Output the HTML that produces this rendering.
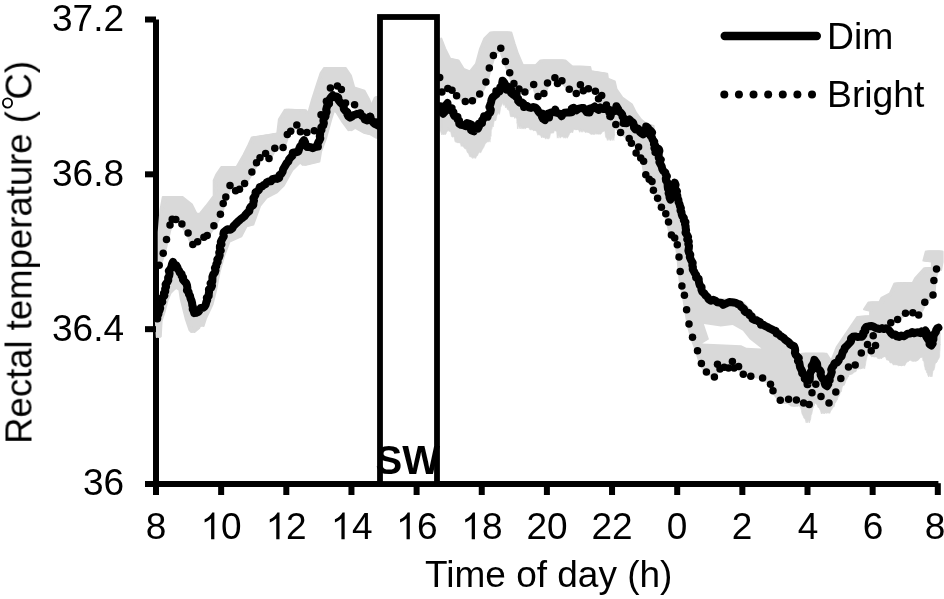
<!DOCTYPE html><html><head><meta charset="utf-8"><title>Rectal temperature</title><style>
html,body{margin:0;padding:0;background:#fff;overflow:hidden;}
#c{position:absolute;left:0;top:0;width:944px;height:599px;overflow:hidden;background:#fff;}
body{width:944px;height:599px;position:relative;overflow:hidden;font-family:"Liberation Sans",sans-serif;color:#000;}
.t{position:absolute;will-change:transform;white-space:nowrap;line-height:1;font-size:37px;}
.yl{right:819.8px;text-align:right;}
.xl{transform:translateX(-50%);top:507.9px;}
</style></head><body><div id="c">
<svg width="944" height="599" viewBox="0 0 944 599" style="position:absolute;left:0;top:0;will-change:transform">
<rect x="153" y="19.5" width="6" height="475.5" fill="#000"/>
<g id="gb" fill="#d9d9d9" stroke="#d9d9d9" stroke-width="2" stroke-linejoin="round">
<polygon points="160.3,262.0 160.3,232.0 162.0,210.0 164.4,197.0 181.0,197.0 190.2,204.2 194.9,213.6 200.8,214.4 207.6,206.0 215.3,195.8 215.3,180.5 217.8,174.6 222.9,167.0 238.1,167.0 245.0,155.0 250.0,145.0 253.4,137.5 270.0,135.0 278.8,133.6 280.5,119.2 286.4,109.8 304.4,110.3 305.3,113.7 310.3,111.2 313.7,99.3 318.0,85.8 322.2,73.0 325.6,68.0 344.2,68.0 349.3,75.6 352.7,87.5 362.9,90.8 367.1,98.5 369.7,104.4 373.0,105.3 376.4,97.6 378.0,97.0 376.0,122.0 369.8,116.5 360.3,113.0 354.6,104.7 345.5,103.0 341.4,89.5 337.4,86.0 330.4,88.0 326.4,101.2 321.0,114.8 314.3,130.7 306.9,132.4 300.4,131.7 296.8,125.0 290.7,131.2 287.3,134.4 283.1,147.5 274.8,148.3 269.0,158.5 265.6,153.4 260.0,157.7 256.5,162.7 251.9,172.0 244.6,183.4 239.5,189.3 235.6,190.7 230.0,185.6 225.8,197.0 223.2,203.6 220.4,214.2 213.9,225.8 207.2,235.6 203.9,237.2 197.6,241.8 192.8,244.4 188.1,233.1 181.9,224.0 175.8,219.5 172.2,219.2 170.0,225.1 166.5,239.5 163.2,253.2 159.2,265.2"/>
<polygon points="157.3,318.5 158.8,312.0 162.7,297.6 167.0,282.4 170.3,268.8 173.4,262.0 177.5,267.0 181.5,273.8 184.5,281.0 187.2,288.1 189.8,296.0 192.0,303.0 194.6,313.0 199.6,310.0 205.5,304.3 209.3,291.5 212.0,281.5 215.3,268.0 216.7,264.3 219.2,252.5 222.9,238.1 225.4,230.5 232.2,228.0 238.1,221.2 244.1,216.1 249.2,211.0 253.4,202.5 255.9,192.4 261.9,186.4 268.6,181.4 277.1,178.8 281.4,173.7 285.6,165.3 290.7,157.6 293.2,153.0 298.3,151.4 301.7,144.6 304.2,140.3 306.8,147.1 312.7,148.0 317.8,146.3 320.3,134.4 323.7,120.8 327.1,107.3 330.5,98.0 333.0,95.4 338.1,98.0 342.4,103.9 345.8,110.7 350.0,117.5 355.0,114.9 360.2,114.0 367.0,120.8 370.3,116.6 375.4,124.2 378.0,125.9 378.0,137.8 372.0,134.4 365.3,132.7 355.0,126.8 350.0,130.2 343.2,120.8 338.1,112.4 333.0,109.0 329.7,119.2 324.6,137.8 319.5,151.4 317.8,161.5 304.2,164.9 300.8,161.5 297.5,163.6 290.7,170.3 282.2,185.6 275.4,192.4 265.3,197.5 258.5,206.0 251.7,224.6 245.0,226.3 239.8,236.4 228.0,241.5 222.5,256.0 218.0,272.0 214.5,290.0 211.0,304.3 204.3,318.6 202.0,326.0 199.6,322.4 197.7,328.0 192.9,332.0 191.0,330.0 187.2,318.6 182.4,299.5 181.0,290.0 176.0,287.0 172.0,290.0 169.0,293.0 166.0,300.0 163.0,312.0 160.0,321.0 159.2,336.5 158.4,337.0"/>
<polygon points="439.7,38.5 443.6,48.6 448.6,58.8 457.0,60.5 462.2,69.0 470.7,72.4 477.5,63.9 481.7,48.6 485.9,38.5 491.9,32.5 509.7,32.5 513.0,43.6 516.4,53.7 521.5,65.6 536.8,65.6 541.9,60.5 563.9,60.5 570.7,66.4 588.6,67.0 589.5,71.2 605.6,73.7 606.4,78.8 613.2,81.4 614.9,89.0 620.8,97.5 630.2,104.2 634.4,112.7 639.5,119.5 645.0,124.0 652.0,126.0 653.0,140.0 657.0,146.0 661.0,162.0 665.0,176.0 669.0,181.0 672.0,187.0 676.0,199.0 682.0,212.0 686.0,232.0 689.0,250.0 693.0,265.0 698.0,279.0 703.0,292.0 712.0,298.0 720.0,299.5 731.0,300.0 742.0,303.0 750.0,312.0 760.0,321.0 772.0,328.0 782.0,335.0 792.0,343.0 796.5,353.0 799.5,360.0 802.0,357.0 803.5,353.7 825.0,353.7 829.0,360.0 831.5,364.0 838.3,347.0 848.5,332.0 858.7,317.0 871.7,316.3 871.7,310.9 865.6,309.4 870.0,302.5 880.8,302.5 883.0,298.0 891.5,293.4 896.0,283.5 914.4,282.7 916.7,278.1 925.8,268.2 933.5,268.2 933.5,261.4 925.0,260.6 927.4,251.4 941.0,251.4 941.0,262.0 939.5,270.0 936.5,269.0 933.9,280.4 933.0,294.9 924.8,302.2 918.7,314.9 912.8,312.8 905.5,313.2 897.6,319.6 890.8,322.8 873.2,335.8 875.5,345.5 871.2,350.7 867.5,344.6 861.3,352.9 855.2,365.0 848.5,367.0 840.8,378.6 835.8,391.9 829.0,402.9 821.0,396.6 815.8,384.2 812.0,392.7 809.2,404.6 803.6,402.9 796.4,400.0 788.6,399.2 780.3,400.3 773.0,390.7 770.5,384.2 762.6,378.0 750.8,376.3 743.3,374.2 738.6,366.4 734.1,368.1 732.4,361.4 728.5,368.1 724.2,367.3 720.0,369.0 717.5,364.2 714.4,377.0 706.4,371.9 701.4,363.6 697.5,350.7 692.5,337.3 689.0,324.1 686.6,309.7 684.4,295.3 681.9,286.1 680.2,271.4 679.0,257.0 677.3,244.7 674.7,238.0 671.4,235.1 668.5,222.0 665.8,213.7 661.4,207.3 657.6,198.3 653.4,190.3 652.0,181.4 649.2,179.3 645.8,174.7 643.6,161.2 640.7,158.1 636.1,153.1 638.6,147.0 631.4,143.2 629.2,138.6 620.6,132.4 615.8,124.6 610.7,116.0 606.4,105.0 598.5,98.8 601.7,95.4 595.4,91.2 588.4,88.8 583.3,90.8 580.4,84.7 576.3,93.4 569.3,89.3 561.9,80.8 557.5,83.4 554.9,77.8 547.5,83.0 543.9,93.6 538.0,96.4 533.7,84.6 524.9,91.9 519.0,89.0 513.9,83.4 509.7,72.7 505.4,61.4 500.8,48.3 493.4,55.4 489.3,68.1 485.9,82.0 479.7,94.0 472.4,100.8 465.3,101.5 456.6,95.8 452.0,90.2 447.8,88.5 441.9,91.9 439.7,77.5"/>
<polygon points="440.2,106.2 443.6,113.4 446.9,102.8 451.6,111.0 457.0,119.5 463.5,125.8 469.4,123.6 473.5,131.5 479.2,124.0 483.3,118.5 488.0,114.0 491.5,102.5 496.5,94.0 500.3,89.3 502.9,80.8 507.1,86.8 511.4,92.7 516.4,94.4 519.0,102.9 526.6,106.3 533.4,106.3 540.2,113.0 545.3,119.8 550.3,113.0 555.4,109.7 561.4,116.4 567.3,113.0 574.1,108.5 583.6,108.5 589.5,112.7 592.0,107.6 598.8,109.3 606.4,106.8 610.7,116.1 615.8,105.9 613.2,129.9 613.1,129.2 612.9,135.7 612.8,133.8 612.7,137.6 612.5,138.0 612.4,140.5 610.7,136.5 609.0,140.5 608.1,137.7 607.3,137.4 606.5,131.4 605.6,130.1 604.8,129.2 603.9,130.1 602.4,131.3 600.9,131.8 599.4,134.1 598.0,134.2 596.5,132.1 595.0,131.5 593.5,134.5 592.0,134.0 590.3,132.4 588.7,131.3 587.0,132.7 585.5,131.1 584.1,129.1 582.6,129.3 581.2,132.3 579.7,128.3 578.3,129.3 576.8,129.8 575.3,129.2 573.9,128.4 572.4,128.5 571.0,133.0 569.7,131.4 568.3,133.2 567.0,135.9 565.6,138.3 563.9,135.1 562.2,137.3 560.5,134.6 558.8,138.2 558.3,131.9 557.8,130.7 557.3,130.8 556.8,130.2 556.3,130.1 554.9,131.3 553.4,128.3 552.0,133.0 551.0,133.2 550.0,131.6 549.0,133.2 548.1,137.4 547.1,139.2 546.1,136.5 544.8,135.6 543.4,138.0 542.1,135.4 540.8,133.9 539.5,135.3 538.1,131.5 536.8,130.0 535.1,130.9 533.4,128.7 531.7,130.1 530.0,127.2 528.3,126.8 526.8,127.5 525.2,127.2 523.6,129.1 522.1,126.0 520.5,125.3 519.0,128.9 518.8,122.5 518.6,123.4 518.5,122.7 518.3,118.4 518.1,115.6 516.4,118.5 514.7,114.9 513.0,117.0 512.0,116.5 511.0,111.5 510.0,109.8 509.0,109.5 508.0,106.6 507.1,107.9 506.3,103.9 505.4,105.6 504.6,101.4 503.8,101.3 502.9,100.5 502.3,100.0 501.6,104.7 501.0,102.3 500.4,104.0 499.7,106.3 499.1,107.1 498.4,111.9 497.8,114.4 496.9,112.8 496.1,113.3 495.2,115.9 494.4,120.2 493.7,120.9 493.0,119.4 492.3,122.5 491.6,127.0 490.9,125.7 490.2,129.4 490.0,127.5 489.8,128.1 489.6,134.2 489.4,136.4 489.1,135.1 488.9,139.2 488.7,138.6 488.5,142.2 487.2,139.7 485.9,142.0 484.6,142.8 483.4,144.4 482.1,147.5 480.8,149.4 479.8,151.6 478.9,153.1 477.9,150.8 476.9,153.2 475.9,155.7 475.0,156.3 474.0,158.5 472.7,156.6 471.5,157.0 470.2,153.7 468.9,152.5 467.7,149.0 466.4,148.8 465.2,147.3 463.9,145.3 462.8,146.5 461.8,142.6 460.7,142.0 459.6,143.2 458.6,142.1 457.5,142.4 456.5,141.3 455.4,135.1 454.3,137.2 453.3,136.6 452.2,131.5 451.1,131.4 450.1,129.0 449.0,131.4 448.0,129.3 446.9,127.4 446.3,127.3 445.6,131.1 445.0,132.4 444.4,133.8 443.3,135.0 442.3,131.8 441.2,130.0 440.2,129.0" stroke-width="0.6"/>
<polygon points="780.3,403.0 782.0,402.5 783.8,402.4 785.5,403.5 787.2,403.1 788.9,403.1 790.6,404.4 792.4,406.2 794.1,406.1 795.8,406.3 797.5,404.9 799.3,406.1 801.0,405.6 801.7,406.9 802.4,408.3 803.0,410.3 803.7,414.0 804.4,415.3 805.1,416.9 805.8,418.5 806.4,418.3 807.1,420.2 807.8,422.8 808.2,421.5 808.6,420.2 809.1,418.7 809.5,414.7 809.9,414.7 810.3,413.3 810.7,411.1 811.2,408.6 811.6,407.8 812.0,405.1 812.5,405.9 813.0,404.0 813.6,401.3 814.1,398.9 814.6,399.0 815.4,399.5 816.3,402.0 817.1,403.4 818.0,403.9 818.8,405.1 819.6,407.2 820.5,408.2 821.3,408.9 822.2,410.9 823.0,413.9 824.7,411.6 826.4,411.6 828.1,413.4 829.0,410.9 829.8,410.2 830.7,408.5 831.5,406.6 832.4,407.1 833.3,403.2 834.1,402.4 835.0,400.3 835.7,400.1 836.3,397.5 837.0,396.2 837.7,395.9 838.4,393.1 839.0,392.3 839.7,391.8 840.4,387.8 841.0,386.2 841.7,385.2 842.6,385.3 843.4,383.3 844.2,380.7 845.1,379.5 846.0,377.5 846.8,376.9 847.6,374.1 848.5,374.6 849.9,374.3 851.4,373.5 852.8,371.9 854.3,371.7 855.7,367.9 857.2,367.8 858.6,368.9 860.1,368.3 861.6,367.2 863.1,368.7 863.5,366.2 863.8,365.2 864.2,362.0 864.6,360.1 864.9,359.2 865.3,356.7 865.7,355.8 866.0,356.0 866.4,352.5 868.1,352.3 869.7,353.1 871.4,354.3 873.1,356.9 874.7,356.3 876.4,356.9 878.0,356.3 879.7,358.9 881.3,357.3 883.0,356.6 884.6,356.2 886.3,356.2 887.4,357.6 888.5,360.2 889.6,359.7 890.7,360.5 891.8,363.0 893.4,362.6 895.1,365.2 896.8,363.0 898.4,364.6 900.1,365.7 901.7,364.9 903.0,365.8 904.3,363.4 905.7,361.8 907.0,361.4 908.3,359.4 910.1,360.3 911.8,359.6 913.6,361.3 915.3,360.9 917.1,359.7 918.8,357.5 920.4,357.3 922.1,356.5 923.7,355.5 924.2,357.3 924.6,361.0 925.1,360.5 925.6,362.0 926.1,366.3 926.5,367.0 927.0,370.0 927.7,369.7 928.3,372.8 929.0,373.6 929.6,375.5 930.3,376.9 930.8,374.4 931.2,371.5 931.7,370.1 932.2,370.3 932.7,368.7 933.1,367.0 933.6,363.5 934.5,363.0 935.4,361.9 936.2,359.9 937.1,358.9 938.0,356.5 938.1,355.1 938.1,353.4 938.2,350.3 938.3,350.5 938.4,348.8 938.5,344.3 938.5,345.2 938.6,343.4 938.5,328.0 937.4,328.3 934.8,333.5 931.5,345.4 928.2,340.1 925.5,330.9 920.3,332.9 912.3,332.2 905.8,335.5 899.2,336.8 891.2,333.5 886.0,328.3 878.0,328.9 871.5,325.6 866.2,326.9 863.5,334.9 859.6,336.8 853.0,336.8 846.6,346.5 842.5,354.0 838.8,360.5 833.2,365.6 830.7,374.1 827.3,385.9 824.7,382.5 819.5,370.5 814.4,359.8 811.2,370.7 807.8,384.2 804.6,376.5 801.2,369.2 797.1,356.3 793.7,346.5 786.9,341.0 780.2,335.9" stroke-width="0.8"/>
</g>
<g transform="translate(-1.6,0)" fill="#d9d9d9" stroke="#d9d9d9" stroke-width="2" stroke-linejoin="round">
<polygon points="160.3,262.0 160.3,232.0 162.0,210.0 164.4,197.0 181.0,197.0 190.2,204.2 194.9,213.6 200.8,214.4 207.6,206.0 215.3,195.8 215.3,180.5 217.8,174.6 222.9,167.0 238.1,167.0 245.0,155.0 250.0,145.0 253.4,137.5 270.0,135.0 278.8,133.6 280.5,119.2 286.4,109.8 304.4,110.3 305.3,113.7 310.3,111.2 313.7,99.3 318.0,85.8 322.2,73.0 325.6,68.0 344.2,68.0 349.3,75.6 352.7,87.5 362.9,90.8 367.1,98.5 369.7,104.4 373.0,105.3 376.4,97.6 378.0,97.0 376.0,122.0 369.8,116.5 360.3,113.0 354.6,104.7 345.5,103.0 341.4,89.5 337.4,86.0 330.4,88.0 326.4,101.2 321.0,114.8 314.3,130.7 306.9,132.4 300.4,131.7 296.8,125.0 290.7,131.2 287.3,134.4 283.1,147.5 274.8,148.3 269.0,158.5 265.6,153.4 260.0,157.7 256.5,162.7 251.9,172.0 244.6,183.4 239.5,189.3 235.6,190.7 230.0,185.6 225.8,197.0 223.2,203.6 220.4,214.2 213.9,225.8 207.2,235.6 203.9,237.2 197.6,241.8 192.8,244.4 188.1,233.1 181.9,224.0 175.8,219.5 172.2,219.2 170.0,225.1 166.5,239.5 163.2,253.2 159.2,265.2"/>
<polygon points="157.3,318.5 158.8,312.0 162.7,297.6 167.0,282.4 170.3,268.8 173.4,262.0 177.5,267.0 181.5,273.8 184.5,281.0 187.2,288.1 189.8,296.0 192.0,303.0 194.6,313.0 199.6,310.0 205.5,304.3 209.3,291.5 212.0,281.5 215.3,268.0 216.7,264.3 219.2,252.5 222.9,238.1 225.4,230.5 232.2,228.0 238.1,221.2 244.1,216.1 249.2,211.0 253.4,202.5 255.9,192.4 261.9,186.4 268.6,181.4 277.1,178.8 281.4,173.7 285.6,165.3 290.7,157.6 293.2,153.0 298.3,151.4 301.7,144.6 304.2,140.3 306.8,147.1 312.7,148.0 317.8,146.3 320.3,134.4 323.7,120.8 327.1,107.3 330.5,98.0 333.0,95.4 338.1,98.0 342.4,103.9 345.8,110.7 350.0,117.5 355.0,114.9 360.2,114.0 367.0,120.8 370.3,116.6 375.4,124.2 378.0,125.9 378.0,137.8 372.0,134.4 365.3,132.7 355.0,126.8 350.0,130.2 343.2,120.8 338.1,112.4 333.0,109.0 329.7,119.2 324.6,137.8 319.5,151.4 317.8,161.5 304.2,164.9 300.8,161.5 297.5,163.6 290.7,170.3 282.2,185.6 275.4,192.4 265.3,197.5 258.5,206.0 251.7,224.6 245.0,226.3 239.8,236.4 228.0,241.5 222.5,256.0 218.0,272.0 214.5,290.0 211.0,304.3 204.3,318.6 202.0,326.0 199.6,322.4 197.7,328.0 192.9,332.0 191.0,330.0 187.2,318.6 182.4,299.5 181.0,290.0 176.0,287.0 172.0,290.0 169.0,293.0 166.0,300.0 163.0,312.0 160.0,321.0 159.2,336.5 158.4,337.0"/>
<polygon points="439.7,38.5 443.6,48.6 448.6,58.8 457.0,60.5 462.2,69.0 470.7,72.4 477.5,63.9 481.7,48.6 485.9,38.5 491.9,32.5 509.7,32.5 513.0,43.6 516.4,53.7 521.5,65.6 536.8,65.6 541.9,60.5 563.9,60.5 570.7,66.4 588.6,67.0 589.5,71.2 605.6,73.7 606.4,78.8 613.2,81.4 614.9,89.0 620.8,97.5 630.2,104.2 634.4,112.7 639.5,119.5 645.0,124.0 652.0,126.0 653.0,140.0 657.0,146.0 661.0,162.0 665.0,176.0 669.0,181.0 672.0,187.0 676.0,199.0 682.0,212.0 686.0,232.0 689.0,250.0 693.0,265.0 698.0,279.0 703.0,292.0 712.0,298.0 720.0,299.5 731.0,300.0 742.0,303.0 750.0,312.0 760.0,321.0 772.0,328.0 782.0,335.0 792.0,343.0 796.5,353.0 799.5,360.0 802.0,357.0 803.5,353.7 825.0,353.7 829.0,360.0 831.5,364.0 838.3,347.0 848.5,332.0 858.7,317.0 871.7,316.3 871.7,310.9 865.6,309.4 870.0,302.5 880.8,302.5 883.0,298.0 891.5,293.4 896.0,283.5 914.4,282.7 916.7,278.1 925.8,268.2 933.5,268.2 933.5,261.4 925.0,260.6 927.4,251.4 941.0,251.4 941.0,262.0 939.5,270.0 936.5,269.0 933.9,280.4 933.0,294.9 924.8,302.2 918.7,314.9 912.8,312.8 905.5,313.2 897.6,319.6 890.8,322.8 873.2,335.8 875.5,345.5 871.2,350.7 867.5,344.6 861.3,352.9 855.2,365.0 848.5,367.0 840.8,378.6 835.8,391.9 829.0,402.9 821.0,396.6 815.8,384.2 812.0,392.7 809.2,404.6 803.6,402.9 796.4,400.0 788.6,399.2 780.3,400.3 773.0,390.7 770.5,384.2 762.6,378.0 750.8,376.3 743.3,374.2 738.6,366.4 734.1,368.1 732.4,361.4 728.5,368.1 724.2,367.3 720.0,369.0 717.5,364.2 714.4,377.0 706.4,371.9 701.4,363.6 697.5,350.7 692.5,337.3 689.0,324.1 686.6,309.7 684.4,295.3 681.9,286.1 680.2,271.4 679.0,257.0 677.3,244.7 674.7,238.0 671.4,235.1 668.5,222.0 665.8,213.7 661.4,207.3 657.6,198.3 653.4,190.3 652.0,181.4 649.2,179.3 645.8,174.7 643.6,161.2 640.7,158.1 636.1,153.1 638.6,147.0 631.4,143.2 629.2,138.6 620.6,132.4 615.8,124.6 610.7,116.0 606.4,105.0 598.5,98.8 601.7,95.4 595.4,91.2 588.4,88.8 583.3,90.8 580.4,84.7 576.3,93.4 569.3,89.3 561.9,80.8 557.5,83.4 554.9,77.8 547.5,83.0 543.9,93.6 538.0,96.4 533.7,84.6 524.9,91.9 519.0,89.0 513.9,83.4 509.7,72.7 505.4,61.4 500.8,48.3 493.4,55.4 489.3,68.1 485.9,82.0 479.7,94.0 472.4,100.8 465.3,101.5 456.6,95.8 452.0,90.2 447.8,88.5 441.9,91.9 439.7,77.5"/>
<polygon points="440.2,106.2 443.6,113.4 446.9,102.8 451.6,111.0 457.0,119.5 463.5,125.8 469.4,123.6 473.5,131.5 479.2,124.0 483.3,118.5 488.0,114.0 491.5,102.5 496.5,94.0 500.3,89.3 502.9,80.8 507.1,86.8 511.4,92.7 516.4,94.4 519.0,102.9 526.6,106.3 533.4,106.3 540.2,113.0 545.3,119.8 550.3,113.0 555.4,109.7 561.4,116.4 567.3,113.0 574.1,108.5 583.6,108.5 589.5,112.7 592.0,107.6 598.8,109.3 606.4,106.8 610.7,116.1 615.8,105.9 613.2,129.9 613.1,129.2 612.9,135.7 612.8,133.8 612.7,137.6 612.5,138.0 612.4,140.5 610.7,136.5 609.0,140.5 608.1,137.7 607.3,137.4 606.5,131.4 605.6,130.1 604.8,129.2 603.9,130.1 602.4,131.3 600.9,131.8 599.4,134.1 598.0,134.2 596.5,132.1 595.0,131.5 593.5,134.5 592.0,134.0 590.3,132.4 588.7,131.3 587.0,132.7 585.5,131.1 584.1,129.1 582.6,129.3 581.2,132.3 579.7,128.3 578.3,129.3 576.8,129.8 575.3,129.2 573.9,128.4 572.4,128.5 571.0,133.0 569.7,131.4 568.3,133.2 567.0,135.9 565.6,138.3 563.9,135.1 562.2,137.3 560.5,134.6 558.8,138.2 558.3,131.9 557.8,130.7 557.3,130.8 556.8,130.2 556.3,130.1 554.9,131.3 553.4,128.3 552.0,133.0 551.0,133.2 550.0,131.6 549.0,133.2 548.1,137.4 547.1,139.2 546.1,136.5 544.8,135.6 543.4,138.0 542.1,135.4 540.8,133.9 539.5,135.3 538.1,131.5 536.8,130.0 535.1,130.9 533.4,128.7 531.7,130.1 530.0,127.2 528.3,126.8 526.8,127.5 525.2,127.2 523.6,129.1 522.1,126.0 520.5,125.3 519.0,128.9 518.8,122.5 518.6,123.4 518.5,122.7 518.3,118.4 518.1,115.6 516.4,118.5 514.7,114.9 513.0,117.0 512.0,116.5 511.0,111.5 510.0,109.8 509.0,109.5 508.0,106.6 507.1,107.9 506.3,103.9 505.4,105.6 504.6,101.4 503.8,101.3 502.9,100.5 502.3,100.0 501.6,104.7 501.0,102.3 500.4,104.0 499.7,106.3 499.1,107.1 498.4,111.9 497.8,114.4 496.9,112.8 496.1,113.3 495.2,115.9 494.4,120.2 493.7,120.9 493.0,119.4 492.3,122.5 491.6,127.0 490.9,125.7 490.2,129.4 490.0,127.5 489.8,128.1 489.6,134.2 489.4,136.4 489.1,135.1 488.9,139.2 488.7,138.6 488.5,142.2 487.2,139.7 485.9,142.0 484.6,142.8 483.4,144.4 482.1,147.5 480.8,149.4 479.8,151.6 478.9,153.1 477.9,150.8 476.9,153.2 475.9,155.7 475.0,156.3 474.0,158.5 472.7,156.6 471.5,157.0 470.2,153.7 468.9,152.5 467.7,149.0 466.4,148.8 465.2,147.3 463.9,145.3 462.8,146.5 461.8,142.6 460.7,142.0 459.6,143.2 458.6,142.1 457.5,142.4 456.5,141.3 455.4,135.1 454.3,137.2 453.3,136.6 452.2,131.5 451.1,131.4 450.1,129.0 449.0,131.4 448.0,129.3 446.9,127.4 446.3,127.3 445.6,131.1 445.0,132.4 444.4,133.8 443.3,135.0 442.3,131.8 441.2,130.0 440.2,129.0" stroke-width="0.6"/>
<polygon points="780.3,403.0 782.0,402.5 783.8,402.4 785.5,403.5 787.2,403.1 788.9,403.1 790.6,404.4 792.4,406.2 794.1,406.1 795.8,406.3 797.5,404.9 799.3,406.1 801.0,405.6 801.7,406.9 802.4,408.3 803.0,410.3 803.7,414.0 804.4,415.3 805.1,416.9 805.8,418.5 806.4,418.3 807.1,420.2 807.8,422.8 808.2,421.5 808.6,420.2 809.1,418.7 809.5,414.7 809.9,414.7 810.3,413.3 810.7,411.1 811.2,408.6 811.6,407.8 812.0,405.1 812.5,405.9 813.0,404.0 813.6,401.3 814.1,398.9 814.6,399.0 815.4,399.5 816.3,402.0 817.1,403.4 818.0,403.9 818.8,405.1 819.6,407.2 820.5,408.2 821.3,408.9 822.2,410.9 823.0,413.9 824.7,411.6 826.4,411.6 828.1,413.4 829.0,410.9 829.8,410.2 830.7,408.5 831.5,406.6 832.4,407.1 833.3,403.2 834.1,402.4 835.0,400.3 835.7,400.1 836.3,397.5 837.0,396.2 837.7,395.9 838.4,393.1 839.0,392.3 839.7,391.8 840.4,387.8 841.0,386.2 841.7,385.2 842.6,385.3 843.4,383.3 844.2,380.7 845.1,379.5 846.0,377.5 846.8,376.9 847.6,374.1 848.5,374.6 849.9,374.3 851.4,373.5 852.8,371.9 854.3,371.7 855.7,367.9 857.2,367.8 858.6,368.9 860.1,368.3 861.6,367.2 863.1,368.7 863.5,366.2 863.8,365.2 864.2,362.0 864.6,360.1 864.9,359.2 865.3,356.7 865.7,355.8 866.0,356.0 866.4,352.5 868.1,352.3 869.7,353.1 871.4,354.3 873.1,356.9 874.7,356.3 876.4,356.9 878.0,356.3 879.7,358.9 881.3,357.3 883.0,356.6 884.6,356.2 886.3,356.2 887.4,357.6 888.5,360.2 889.6,359.7 890.7,360.5 891.8,363.0 893.4,362.6 895.1,365.2 896.8,363.0 898.4,364.6 900.1,365.7 901.7,364.9 903.0,365.8 904.3,363.4 905.7,361.8 907.0,361.4 908.3,359.4 910.1,360.3 911.8,359.6 913.6,361.3 915.3,360.9 917.1,359.7 918.8,357.5 920.4,357.3 922.1,356.5 923.7,355.5 924.2,357.3 924.6,361.0 925.1,360.5 925.6,362.0 926.1,366.3 926.5,367.0 927.0,370.0 927.7,369.7 928.3,372.8 929.0,373.6 929.6,375.5 930.3,376.9 930.8,374.4 931.2,371.5 931.7,370.1 932.2,370.3 932.7,368.7 933.1,367.0 933.6,363.5 934.5,363.0 935.4,361.9 936.2,359.9 937.1,358.9 938.0,356.5 938.1,355.1 938.1,353.4 938.2,350.3 938.3,350.5 938.4,348.8 938.5,344.3 938.5,345.2 938.6,343.4 938.5,328.0 937.4,328.3 934.8,333.5 931.5,345.4 928.2,340.1 925.5,330.9 920.3,332.9 912.3,332.2 905.8,335.5 899.2,336.8 891.2,333.5 886.0,328.3 878.0,328.9 871.5,325.6 866.2,326.9 863.5,334.9 859.6,336.8 853.0,336.8 846.6,346.5 842.5,354.0 838.8,360.5 833.2,365.6 830.7,374.1 827.3,385.9 824.7,382.5 819.5,370.5 814.4,359.8 811.2,370.7 807.8,384.2 804.6,376.5 801.2,369.2 797.1,356.3 793.7,346.5 786.9,341.0 780.2,335.9" stroke-width="0.8"/>
</g>
<g transform="translate(1.6,0)" fill="#d9d9d9" stroke="#d9d9d9" stroke-width="2" stroke-linejoin="round">
<polygon points="160.3,262.0 160.3,232.0 162.0,210.0 164.4,197.0 181.0,197.0 190.2,204.2 194.9,213.6 200.8,214.4 207.6,206.0 215.3,195.8 215.3,180.5 217.8,174.6 222.9,167.0 238.1,167.0 245.0,155.0 250.0,145.0 253.4,137.5 270.0,135.0 278.8,133.6 280.5,119.2 286.4,109.8 304.4,110.3 305.3,113.7 310.3,111.2 313.7,99.3 318.0,85.8 322.2,73.0 325.6,68.0 344.2,68.0 349.3,75.6 352.7,87.5 362.9,90.8 367.1,98.5 369.7,104.4 373.0,105.3 376.4,97.6 378.0,97.0 376.0,122.0 369.8,116.5 360.3,113.0 354.6,104.7 345.5,103.0 341.4,89.5 337.4,86.0 330.4,88.0 326.4,101.2 321.0,114.8 314.3,130.7 306.9,132.4 300.4,131.7 296.8,125.0 290.7,131.2 287.3,134.4 283.1,147.5 274.8,148.3 269.0,158.5 265.6,153.4 260.0,157.7 256.5,162.7 251.9,172.0 244.6,183.4 239.5,189.3 235.6,190.7 230.0,185.6 225.8,197.0 223.2,203.6 220.4,214.2 213.9,225.8 207.2,235.6 203.9,237.2 197.6,241.8 192.8,244.4 188.1,233.1 181.9,224.0 175.8,219.5 172.2,219.2 170.0,225.1 166.5,239.5 163.2,253.2 159.2,265.2"/>
<polygon points="157.3,318.5 158.8,312.0 162.7,297.6 167.0,282.4 170.3,268.8 173.4,262.0 177.5,267.0 181.5,273.8 184.5,281.0 187.2,288.1 189.8,296.0 192.0,303.0 194.6,313.0 199.6,310.0 205.5,304.3 209.3,291.5 212.0,281.5 215.3,268.0 216.7,264.3 219.2,252.5 222.9,238.1 225.4,230.5 232.2,228.0 238.1,221.2 244.1,216.1 249.2,211.0 253.4,202.5 255.9,192.4 261.9,186.4 268.6,181.4 277.1,178.8 281.4,173.7 285.6,165.3 290.7,157.6 293.2,153.0 298.3,151.4 301.7,144.6 304.2,140.3 306.8,147.1 312.7,148.0 317.8,146.3 320.3,134.4 323.7,120.8 327.1,107.3 330.5,98.0 333.0,95.4 338.1,98.0 342.4,103.9 345.8,110.7 350.0,117.5 355.0,114.9 360.2,114.0 367.0,120.8 370.3,116.6 375.4,124.2 378.0,125.9 378.0,137.8 372.0,134.4 365.3,132.7 355.0,126.8 350.0,130.2 343.2,120.8 338.1,112.4 333.0,109.0 329.7,119.2 324.6,137.8 319.5,151.4 317.8,161.5 304.2,164.9 300.8,161.5 297.5,163.6 290.7,170.3 282.2,185.6 275.4,192.4 265.3,197.5 258.5,206.0 251.7,224.6 245.0,226.3 239.8,236.4 228.0,241.5 222.5,256.0 218.0,272.0 214.5,290.0 211.0,304.3 204.3,318.6 202.0,326.0 199.6,322.4 197.7,328.0 192.9,332.0 191.0,330.0 187.2,318.6 182.4,299.5 181.0,290.0 176.0,287.0 172.0,290.0 169.0,293.0 166.0,300.0 163.0,312.0 160.0,321.0 159.2,336.5 158.4,337.0"/>
<polygon points="439.7,38.5 443.6,48.6 448.6,58.8 457.0,60.5 462.2,69.0 470.7,72.4 477.5,63.9 481.7,48.6 485.9,38.5 491.9,32.5 509.7,32.5 513.0,43.6 516.4,53.7 521.5,65.6 536.8,65.6 541.9,60.5 563.9,60.5 570.7,66.4 588.6,67.0 589.5,71.2 605.6,73.7 606.4,78.8 613.2,81.4 614.9,89.0 620.8,97.5 630.2,104.2 634.4,112.7 639.5,119.5 645.0,124.0 652.0,126.0 653.0,140.0 657.0,146.0 661.0,162.0 665.0,176.0 669.0,181.0 672.0,187.0 676.0,199.0 682.0,212.0 686.0,232.0 689.0,250.0 693.0,265.0 698.0,279.0 703.0,292.0 712.0,298.0 720.0,299.5 731.0,300.0 742.0,303.0 750.0,312.0 760.0,321.0 772.0,328.0 782.0,335.0 792.0,343.0 796.5,353.0 799.5,360.0 802.0,357.0 803.5,353.7 825.0,353.7 829.0,360.0 831.5,364.0 838.3,347.0 848.5,332.0 858.7,317.0 871.7,316.3 871.7,310.9 865.6,309.4 870.0,302.5 880.8,302.5 883.0,298.0 891.5,293.4 896.0,283.5 914.4,282.7 916.7,278.1 925.8,268.2 933.5,268.2 933.5,261.4 925.0,260.6 927.4,251.4 941.0,251.4 941.0,262.0 939.5,270.0 936.5,269.0 933.9,280.4 933.0,294.9 924.8,302.2 918.7,314.9 912.8,312.8 905.5,313.2 897.6,319.6 890.8,322.8 873.2,335.8 875.5,345.5 871.2,350.7 867.5,344.6 861.3,352.9 855.2,365.0 848.5,367.0 840.8,378.6 835.8,391.9 829.0,402.9 821.0,396.6 815.8,384.2 812.0,392.7 809.2,404.6 803.6,402.9 796.4,400.0 788.6,399.2 780.3,400.3 773.0,390.7 770.5,384.2 762.6,378.0 750.8,376.3 743.3,374.2 738.6,366.4 734.1,368.1 732.4,361.4 728.5,368.1 724.2,367.3 720.0,369.0 717.5,364.2 714.4,377.0 706.4,371.9 701.4,363.6 697.5,350.7 692.5,337.3 689.0,324.1 686.6,309.7 684.4,295.3 681.9,286.1 680.2,271.4 679.0,257.0 677.3,244.7 674.7,238.0 671.4,235.1 668.5,222.0 665.8,213.7 661.4,207.3 657.6,198.3 653.4,190.3 652.0,181.4 649.2,179.3 645.8,174.7 643.6,161.2 640.7,158.1 636.1,153.1 638.6,147.0 631.4,143.2 629.2,138.6 620.6,132.4 615.8,124.6 610.7,116.0 606.4,105.0 598.5,98.8 601.7,95.4 595.4,91.2 588.4,88.8 583.3,90.8 580.4,84.7 576.3,93.4 569.3,89.3 561.9,80.8 557.5,83.4 554.9,77.8 547.5,83.0 543.9,93.6 538.0,96.4 533.7,84.6 524.9,91.9 519.0,89.0 513.9,83.4 509.7,72.7 505.4,61.4 500.8,48.3 493.4,55.4 489.3,68.1 485.9,82.0 479.7,94.0 472.4,100.8 465.3,101.5 456.6,95.8 452.0,90.2 447.8,88.5 441.9,91.9 439.7,77.5"/>
<polygon points="440.2,106.2 443.6,113.4 446.9,102.8 451.6,111.0 457.0,119.5 463.5,125.8 469.4,123.6 473.5,131.5 479.2,124.0 483.3,118.5 488.0,114.0 491.5,102.5 496.5,94.0 500.3,89.3 502.9,80.8 507.1,86.8 511.4,92.7 516.4,94.4 519.0,102.9 526.6,106.3 533.4,106.3 540.2,113.0 545.3,119.8 550.3,113.0 555.4,109.7 561.4,116.4 567.3,113.0 574.1,108.5 583.6,108.5 589.5,112.7 592.0,107.6 598.8,109.3 606.4,106.8 610.7,116.1 615.8,105.9 613.2,129.9 613.1,129.2 612.9,135.7 612.8,133.8 612.7,137.6 612.5,138.0 612.4,140.5 610.7,136.5 609.0,140.5 608.1,137.7 607.3,137.4 606.5,131.4 605.6,130.1 604.8,129.2 603.9,130.1 602.4,131.3 600.9,131.8 599.4,134.1 598.0,134.2 596.5,132.1 595.0,131.5 593.5,134.5 592.0,134.0 590.3,132.4 588.7,131.3 587.0,132.7 585.5,131.1 584.1,129.1 582.6,129.3 581.2,132.3 579.7,128.3 578.3,129.3 576.8,129.8 575.3,129.2 573.9,128.4 572.4,128.5 571.0,133.0 569.7,131.4 568.3,133.2 567.0,135.9 565.6,138.3 563.9,135.1 562.2,137.3 560.5,134.6 558.8,138.2 558.3,131.9 557.8,130.7 557.3,130.8 556.8,130.2 556.3,130.1 554.9,131.3 553.4,128.3 552.0,133.0 551.0,133.2 550.0,131.6 549.0,133.2 548.1,137.4 547.1,139.2 546.1,136.5 544.8,135.6 543.4,138.0 542.1,135.4 540.8,133.9 539.5,135.3 538.1,131.5 536.8,130.0 535.1,130.9 533.4,128.7 531.7,130.1 530.0,127.2 528.3,126.8 526.8,127.5 525.2,127.2 523.6,129.1 522.1,126.0 520.5,125.3 519.0,128.9 518.8,122.5 518.6,123.4 518.5,122.7 518.3,118.4 518.1,115.6 516.4,118.5 514.7,114.9 513.0,117.0 512.0,116.5 511.0,111.5 510.0,109.8 509.0,109.5 508.0,106.6 507.1,107.9 506.3,103.9 505.4,105.6 504.6,101.4 503.8,101.3 502.9,100.5 502.3,100.0 501.6,104.7 501.0,102.3 500.4,104.0 499.7,106.3 499.1,107.1 498.4,111.9 497.8,114.4 496.9,112.8 496.1,113.3 495.2,115.9 494.4,120.2 493.7,120.9 493.0,119.4 492.3,122.5 491.6,127.0 490.9,125.7 490.2,129.4 490.0,127.5 489.8,128.1 489.6,134.2 489.4,136.4 489.1,135.1 488.9,139.2 488.7,138.6 488.5,142.2 487.2,139.7 485.9,142.0 484.6,142.8 483.4,144.4 482.1,147.5 480.8,149.4 479.8,151.6 478.9,153.1 477.9,150.8 476.9,153.2 475.9,155.7 475.0,156.3 474.0,158.5 472.7,156.6 471.5,157.0 470.2,153.7 468.9,152.5 467.7,149.0 466.4,148.8 465.2,147.3 463.9,145.3 462.8,146.5 461.8,142.6 460.7,142.0 459.6,143.2 458.6,142.1 457.5,142.4 456.5,141.3 455.4,135.1 454.3,137.2 453.3,136.6 452.2,131.5 451.1,131.4 450.1,129.0 449.0,131.4 448.0,129.3 446.9,127.4 446.3,127.3 445.6,131.1 445.0,132.4 444.4,133.8 443.3,135.0 442.3,131.8 441.2,130.0 440.2,129.0" stroke-width="0.6"/>
<polygon points="780.3,403.0 782.0,402.5 783.8,402.4 785.5,403.5 787.2,403.1 788.9,403.1 790.6,404.4 792.4,406.2 794.1,406.1 795.8,406.3 797.5,404.9 799.3,406.1 801.0,405.6 801.7,406.9 802.4,408.3 803.0,410.3 803.7,414.0 804.4,415.3 805.1,416.9 805.8,418.5 806.4,418.3 807.1,420.2 807.8,422.8 808.2,421.5 808.6,420.2 809.1,418.7 809.5,414.7 809.9,414.7 810.3,413.3 810.7,411.1 811.2,408.6 811.6,407.8 812.0,405.1 812.5,405.9 813.0,404.0 813.6,401.3 814.1,398.9 814.6,399.0 815.4,399.5 816.3,402.0 817.1,403.4 818.0,403.9 818.8,405.1 819.6,407.2 820.5,408.2 821.3,408.9 822.2,410.9 823.0,413.9 824.7,411.6 826.4,411.6 828.1,413.4 829.0,410.9 829.8,410.2 830.7,408.5 831.5,406.6 832.4,407.1 833.3,403.2 834.1,402.4 835.0,400.3 835.7,400.1 836.3,397.5 837.0,396.2 837.7,395.9 838.4,393.1 839.0,392.3 839.7,391.8 840.4,387.8 841.0,386.2 841.7,385.2 842.6,385.3 843.4,383.3 844.2,380.7 845.1,379.5 846.0,377.5 846.8,376.9 847.6,374.1 848.5,374.6 849.9,374.3 851.4,373.5 852.8,371.9 854.3,371.7 855.7,367.9 857.2,367.8 858.6,368.9 860.1,368.3 861.6,367.2 863.1,368.7 863.5,366.2 863.8,365.2 864.2,362.0 864.6,360.1 864.9,359.2 865.3,356.7 865.7,355.8 866.0,356.0 866.4,352.5 868.1,352.3 869.7,353.1 871.4,354.3 873.1,356.9 874.7,356.3 876.4,356.9 878.0,356.3 879.7,358.9 881.3,357.3 883.0,356.6 884.6,356.2 886.3,356.2 887.4,357.6 888.5,360.2 889.6,359.7 890.7,360.5 891.8,363.0 893.4,362.6 895.1,365.2 896.8,363.0 898.4,364.6 900.1,365.7 901.7,364.9 903.0,365.8 904.3,363.4 905.7,361.8 907.0,361.4 908.3,359.4 910.1,360.3 911.8,359.6 913.6,361.3 915.3,360.9 917.1,359.7 918.8,357.5 920.4,357.3 922.1,356.5 923.7,355.5 924.2,357.3 924.6,361.0 925.1,360.5 925.6,362.0 926.1,366.3 926.5,367.0 927.0,370.0 927.7,369.7 928.3,372.8 929.0,373.6 929.6,375.5 930.3,376.9 930.8,374.4 931.2,371.5 931.7,370.1 932.2,370.3 932.7,368.7 933.1,367.0 933.6,363.5 934.5,363.0 935.4,361.9 936.2,359.9 937.1,358.9 938.0,356.5 938.1,355.1 938.1,353.4 938.2,350.3 938.3,350.5 938.4,348.8 938.5,344.3 938.5,345.2 938.6,343.4 938.5,328.0 937.4,328.3 934.8,333.5 931.5,345.4 928.2,340.1 925.5,330.9 920.3,332.9 912.3,332.2 905.8,335.5 899.2,336.8 891.2,333.5 886.0,328.3 878.0,328.9 871.5,325.6 866.2,326.9 863.5,334.9 859.6,336.8 853.0,336.8 846.6,346.5 842.5,354.0 838.8,360.5 833.2,365.6 830.7,374.1 827.3,385.9 824.7,382.5 819.5,370.5 814.4,359.8 811.2,370.7 807.8,384.2 804.6,376.5 801.2,369.2 797.1,356.3 793.7,346.5 786.9,341.0 780.2,335.9" stroke-width="0.8"/>
</g>
<polygon points="703.9,324.0 720.8,326.6 732.7,324.9 742.9,330.8 749.7,339.3 761.5,348.6 746.3,347.8 741.2,345.3 702.2,343.6 709.0,339.3" fill="#fff"/>
<g fill="#000">
<circle cx="159.2" cy="265.2" r="3.75"/>
<circle cx="163.2" cy="253.2" r="3.75"/>
<circle cx="166.5" cy="239.5" r="3.75"/>
<circle cx="170.0" cy="225.1" r="3.75"/>
<circle cx="172.2" cy="219.2" r="3.75"/>
<circle cx="175.8" cy="219.5" r="3.75"/>
<circle cx="181.9" cy="224.0" r="3.75"/>
<circle cx="188.1" cy="233.1" r="3.75"/>
<circle cx="192.8" cy="244.4" r="3.75"/>
<circle cx="197.6" cy="241.8" r="3.75"/>
<circle cx="203.9" cy="237.2" r="3.75"/>
<circle cx="207.2" cy="235.6" r="3.75"/>
<circle cx="213.9" cy="225.8" r="3.75"/>
<circle cx="220.4" cy="214.2" r="3.75"/>
<circle cx="223.2" cy="203.6" r="3.75"/>
<circle cx="225.8" cy="197.0" r="3.75"/>
<circle cx="230.0" cy="185.6" r="3.75"/>
<circle cx="235.6" cy="190.7" r="3.75"/>
<circle cx="239.5" cy="189.3" r="3.75"/>
<circle cx="244.6" cy="183.4" r="3.75"/>
<circle cx="251.9" cy="172.0" r="3.75"/>
<circle cx="256.5" cy="162.7" r="3.75"/>
<circle cx="260.0" cy="157.7" r="3.75"/>
<circle cx="265.6" cy="153.4" r="3.75"/>
<circle cx="269.0" cy="158.5" r="3.75"/>
<circle cx="274.8" cy="148.3" r="3.75"/>
<circle cx="283.1" cy="147.5" r="3.75"/>
<circle cx="287.3" cy="134.4" r="3.75"/>
<circle cx="290.7" cy="131.2" r="3.75"/>
<circle cx="296.8" cy="125.0" r="3.75"/>
<circle cx="300.4" cy="131.7" r="3.75"/>
<circle cx="306.9" cy="132.4" r="3.75"/>
<circle cx="314.3" cy="130.7" r="3.75"/>
<circle cx="321.0" cy="114.8" r="3.75"/>
<circle cx="326.4" cy="101.2" r="3.75"/>
<circle cx="330.4" cy="88.0" r="3.75"/>
<circle cx="337.4" cy="86.0" r="3.75"/>
<circle cx="341.4" cy="89.5" r="3.75"/>
<circle cx="345.5" cy="103.0" r="3.75"/>
<circle cx="354.6" cy="104.7" r="3.75"/>
<circle cx="360.3" cy="113.0" r="3.75"/>
<circle cx="369.8" cy="116.5" r="3.75"/>
<circle cx="376.0" cy="122.0" r="3.75"/>
<circle cx="439.7" cy="77.5" r="3.75"/>
<circle cx="441.9" cy="91.9" r="3.75"/>
<circle cx="447.8" cy="88.5" r="3.75"/>
<circle cx="452.0" cy="90.2" r="3.75"/>
<circle cx="456.6" cy="95.8" r="3.75"/>
<circle cx="465.3" cy="101.5" r="3.75"/>
<circle cx="472.4" cy="100.8" r="3.75"/>
<circle cx="479.7" cy="94.0" r="3.75"/>
<circle cx="485.9" cy="82.0" r="3.75"/>
<circle cx="489.3" cy="68.1" r="3.75"/>
<circle cx="493.4" cy="55.4" r="3.75"/>
<circle cx="500.8" cy="48.3" r="3.75"/>
<circle cx="505.4" cy="61.4" r="3.75"/>
<circle cx="509.7" cy="72.7" r="3.75"/>
<circle cx="513.9" cy="83.4" r="3.75"/>
<circle cx="519.0" cy="89.0" r="3.75"/>
<circle cx="524.9" cy="91.9" r="3.75"/>
<circle cx="533.7" cy="84.6" r="3.75"/>
<circle cx="538.0" cy="96.4" r="3.75"/>
<circle cx="543.9" cy="93.6" r="3.75"/>
<circle cx="547.5" cy="83.0" r="3.75"/>
<circle cx="554.9" cy="77.8" r="3.75"/>
<circle cx="557.5" cy="83.4" r="3.75"/>
<circle cx="561.9" cy="80.8" r="3.75"/>
<circle cx="569.3" cy="89.3" r="3.75"/>
<circle cx="576.3" cy="93.4" r="3.75"/>
<circle cx="580.4" cy="84.7" r="3.75"/>
<circle cx="583.3" cy="90.8" r="3.75"/>
<circle cx="588.4" cy="88.8" r="3.75"/>
<circle cx="595.4" cy="91.2" r="3.75"/>
<circle cx="601.7" cy="95.4" r="3.75"/>
<circle cx="598.5" cy="98.8" r="3.75"/>
<circle cx="606.4" cy="105.0" r="3.75"/>
<circle cx="610.7" cy="116.0" r="3.75"/>
<circle cx="615.8" cy="124.6" r="3.75"/>
<circle cx="620.6" cy="132.4" r="3.75"/>
<circle cx="629.2" cy="138.6" r="3.75"/>
<circle cx="631.4" cy="143.2" r="3.75"/>
<circle cx="638.6" cy="147.0" r="3.75"/>
<circle cx="636.1" cy="153.1" r="3.75"/>
<circle cx="640.7" cy="158.1" r="3.75"/>
<circle cx="643.6" cy="161.2" r="3.75"/>
<circle cx="645.8" cy="174.7" r="3.75"/>
<circle cx="649.2" cy="179.3" r="3.75"/>
<circle cx="652.0" cy="181.4" r="3.75"/>
<circle cx="653.4" cy="190.3" r="3.75"/>
<circle cx="657.6" cy="198.3" r="3.75"/>
<circle cx="661.4" cy="207.3" r="3.75"/>
<circle cx="665.8" cy="213.7" r="3.75"/>
<circle cx="668.5" cy="222.0" r="3.75"/>
<circle cx="671.4" cy="235.1" r="3.75"/>
<circle cx="674.7" cy="238.0" r="3.75"/>
<circle cx="677.3" cy="244.7" r="3.75"/>
<circle cx="679.0" cy="257.0" r="3.75"/>
<circle cx="680.2" cy="271.4" r="3.75"/>
<circle cx="681.9" cy="286.1" r="3.75"/>
<circle cx="684.4" cy="295.3" r="3.75"/>
<circle cx="686.6" cy="309.7" r="3.75"/>
<circle cx="689.0" cy="324.1" r="3.75"/>
<circle cx="692.5" cy="337.3" r="3.75"/>
<circle cx="697.5" cy="350.7" r="3.75"/>
<circle cx="701.4" cy="363.6" r="3.75"/>
<circle cx="706.4" cy="371.9" r="3.75"/>
<circle cx="714.4" cy="377.0" r="3.75"/>
<circle cx="717.5" cy="364.2" r="3.75"/>
<circle cx="720.0" cy="369.0" r="3.75"/>
<circle cx="724.2" cy="367.3" r="3.75"/>
<circle cx="728.5" cy="368.1" r="3.75"/>
<circle cx="732.4" cy="361.4" r="3.75"/>
<circle cx="734.1" cy="368.1" r="3.75"/>
<circle cx="738.6" cy="366.4" r="3.75"/>
<circle cx="743.3" cy="374.2" r="3.75"/>
<circle cx="750.8" cy="376.3" r="3.75"/>
<circle cx="762.6" cy="378.0" r="3.75"/>
<circle cx="770.5" cy="384.2" r="3.75"/>
<circle cx="773.0" cy="390.7" r="3.75"/>
<circle cx="780.3" cy="400.3" r="3.75"/>
<circle cx="788.6" cy="399.2" r="3.75"/>
<circle cx="796.4" cy="400.0" r="3.75"/>
<circle cx="803.6" cy="402.9" r="3.75"/>
<circle cx="809.2" cy="404.6" r="3.75"/>
<circle cx="812.0" cy="392.7" r="3.75"/>
<circle cx="815.8" cy="384.2" r="3.75"/>
<circle cx="821.0" cy="396.6" r="3.75"/>
<circle cx="829.0" cy="402.9" r="3.75"/>
<circle cx="835.8" cy="391.9" r="3.75"/>
<circle cx="840.8" cy="378.6" r="3.75"/>
<circle cx="848.5" cy="367.0" r="3.75"/>
<circle cx="855.2" cy="365.0" r="3.75"/>
<circle cx="861.3" cy="352.9" r="3.75"/>
<circle cx="867.5" cy="344.6" r="3.75"/>
<circle cx="871.2" cy="350.7" r="3.75"/>
<circle cx="875.5" cy="345.5" r="3.75"/>
<circle cx="873.2" cy="335.8" r="3.75"/>
<circle cx="890.8" cy="322.8" r="3.75"/>
<circle cx="897.6" cy="319.6" r="3.75"/>
<circle cx="905.5" cy="313.2" r="3.75"/>
<circle cx="912.8" cy="312.8" r="3.75"/>
<circle cx="918.7" cy="314.9" r="3.75"/>
<circle cx="924.8" cy="302.2" r="3.75"/>
<circle cx="933.0" cy="294.9" r="3.75"/>
<circle cx="933.9" cy="280.4" r="3.75"/>
<circle cx="936.5" cy="269.0" r="3.75"/>
</g>
<g fill="none" stroke="#000" stroke-width="8.0" stroke-linejoin="round" stroke-linecap="round">
<polyline points="157.3,318.5 157.2,316.2 158.4,314.2 158.7,312.0 159.6,310.0 160.2,308.0 159.5,305.6 160.0,303.5 162.3,301.9 161.6,299.5 162.5,297.5 164.4,295.7 163.9,293.2 165.3,291.3 165.1,288.9 166.1,286.8 165.6,284.4 167.1,282.4 168.3,280.3 168.1,277.9 169.2,275.7 169.6,273.4 168.8,270.8 170.5,268.9 171.5,266.6 172.0,264.1 173.0,261.8 174.1,264.2 176.2,265.3 177.4,267.1 177.8,269.1 179.1,270.6 179.7,272.6 181.6,273.8 181.6,275.9 183.1,277.4 182.9,279.6 184.2,281.1 186.2,283.1 187.0,285.4 187.4,288.0 186.9,290.4 188.6,292.0 188.9,294.1 190.0,295.9 190.5,298.3 191.5,300.6 192.1,303.0 192.3,305.0 192.9,307.0 192.7,309.2 193.7,311.1 194.2,313.1 196.7,312.7 198.5,311.9 199.7,310.1 200.6,308.0 203.1,307.7 204.7,306.5 205.7,304.6 206.3,302.2 207.2,300.2 206.8,297.7 208.7,296.0 208.8,293.7 209.1,291.4 208.9,289.2 211.1,287.7 212.0,285.8 210.6,283.3 212.3,281.6 212.4,279.2 212.4,276.8 213.2,274.6 214.8,272.6 215.5,270.4 214.9,267.9 216.2,266.2 216.3,264.2 217.7,262.0 217.3,259.5 219.0,257.4 219.7,255.1 219.2,252.5 220.8,250.7 219.9,248.3 219.9,246.1 221.5,244.3 220.8,242.0 221.7,240.0 222.8,238.1 223.8,236.3 223.4,234.1 223.8,232.1 225.7,230.6 227.5,229.3 230.3,229.8 232.3,228.3 233.5,226.1 235.1,224.5 236.7,222.9 238.2,221.3 239.7,220.1 241.2,218.7 242.8,217.6 244.4,216.4 245.8,214.4 247.4,212.6 249.3,211.1 249.7,208.6 250.9,206.6 253.3,205.1 253.4,202.5 254.0,200.5 253.4,198.2 254.7,196.4 255.6,194.5 255.5,192.3 257.6,191.1 259.1,189.6 259.7,187.2 262.0,186.5 263.5,185.1 265.5,184.2 266.7,182.4 268.7,181.5 270.9,181.3 272.5,179.1 274.7,178.5 277.1,178.9 279.3,177.8 279.5,175.0 281.4,173.7 282.6,171.7 283.1,169.3 284.3,167.3 285.5,165.2 286.6,163.2 288.3,161.6 289.1,159.3 290.6,157.5 292.5,155.6 292.8,152.8 295.8,152.3 298.4,151.6 299.1,148.9 300.0,146.6 301.9,144.7 302.5,142.2 304.0,140.2 305.2,142.5 305.5,145.0 307.1,147.0 308.8,147.0 310.8,147.3 312.7,148.3 315.2,147.0 317.9,146.6 317.5,144.2 318.3,142.3 319.4,140.4 320.3,138.5 319.8,136.4 320.1,134.4 320.1,131.9 321.5,129.9 321.3,127.4 323.2,125.5 323.9,123.2 323.4,120.7 323.8,118.4 325.5,116.5 325.7,114.1 326.6,112.0 326.2,109.5 326.8,107.2 327.4,105.3 329.1,103.8 328.7,101.5 329.5,99.7 330.4,98.0 331.6,96.6 332.9,95.3 334.3,97.1 336.7,96.5 338.3,97.6 338.7,100.5 340.3,102.4 342.1,104.2 343.7,106.1 343.8,108.9 345.5,110.9 347.4,112.1 347.4,114.4 348.3,116.2 349.9,117.6 351.7,116.7 353.1,115.4 354.9,114.8 357.5,113.9 360.1,113.6 361.8,115.8 363.9,117.1 364.8,119.6 367.3,120.5 369.3,119.2 370.4,116.7 370.8,119.0 372.1,120.9 373.4,122.8 375.3,124.2 378.2,125.5"/>
<polyline points="440.2,106.2 440.6,108.2 441.1,110.2 441.8,112.1 443.0,113.7 445.1,111.5 446.4,109.6 443.9,106.5 446.1,104.9 447.5,103.0 447.6,105.1 447.9,107.6 451.7,108.2 451.6,111.0 453.5,112.2 453.6,114.5 454.6,116.2 457.5,116.8 457.4,119.3 459.2,120.5 459.2,123.8 461.2,124.9 463.9,125.4 465.9,126.1 467.0,123.1 469.5,123.8 471.7,124.9 473.1,126.7 471.2,130.2 473.9,131.3 474.1,129.0 477.8,128.8 478.9,126.7 478.9,123.8 482.0,123.2 482.1,120.4 483.5,118.7 484.1,116.2 487.6,116.7 488.2,114.2 490.4,112.2 490.8,109.8 489.4,106.9 490.3,104.6 491.0,102.4 491.6,99.7 492.6,97.4 494.6,95.7 496.6,94.1 496.3,91.3 499.6,91.3 500.1,89.1 500.3,87.0 502.7,85.4 502.2,82.9 502.6,80.7 504.4,82.8 505.1,85.2 507.6,86.4 507.1,89.8 511.4,89.7 511.1,92.9 513.5,94.8 516.6,93.7 516.0,96.8 518.2,98.5 518.1,100.9 519.7,102.7 521.6,102.2 523.3,103.5 524.0,107.0 526.8,105.9 528.9,107.3 531.1,107.9 533.4,107.0 535.5,107.6 537.2,109.3 538.4,111.4 539.9,113.3 542.6,113.8 542.0,117.0 543.1,118.8 544.9,120.1 545.2,117.1 549.1,117.4 547.8,113.8 550.1,112.9 552.2,112.2 554.5,112.1 555.3,109.5 555.7,112.4 558.3,113.2 560.4,114.3 561.6,116.2 562.8,114.2 564.5,112.8 567.0,112.5 569.4,112.5 571.7,112.3 571.7,108.6 573.7,107.9 576.5,110.3 578.9,108.6 581.2,108.1 583.6,108.1 585.4,110.2 586.8,112.3 589.5,112.6 590.1,110.9 589.7,108.6 592.6,107.9 594.7,106.5 596.5,108.7 598.7,109.8 600.3,107.4 602.9,108.9 605.0,109.0 606.5,107.0 606.3,109.1 609.5,109.9 609.2,112.3 611.0,113.7 610.2,116.3 611.0,113.7 612.6,111.9 615.4,110.8 616.0,108.5 616.4,106.2 617.2,107.5 618.3,109.3 618.9,111.5 620.8,112.7 622.2,114.5 622.5,116.7 624.1,118.4 624.0,120.7 623.5,123.1 626.9,123.2 627.9,121.0 629.3,119.5 631.1,121.2 633.1,122.7 633.8,125.0 634.0,127.7 635.6,129.5 638.0,128.5 639.3,130.1 639.9,131.9 641.4,133.2 643.0,134.4 644.9,132.7 644.4,130.1 646.4,128.7 646.2,126.4 648.0,127.8 648.7,129.9 650.6,130.7 652.1,132.6 650.3,135.5 651.9,137.5 652.7,139.8 654.3,141.8 653.9,144.1 655.4,145.9 654.4,148.3 655.6,150.1 655.4,152.3 657.6,150.8 658.9,149.1 659.4,150.9 658.7,153.3 658.7,155.5 658.7,157.7 660.8,159.6 659.4,162.1 660.5,164.2 661.7,166.4 662.2,168.8 663.3,170.9 665.3,172.5 665.7,174.5 666.9,176.3 665.8,178.6 666.0,180.6 667.4,182.4 667.6,184.4 667.7,186.7 668.0,188.9 669.6,190.8 668.6,193.2 669.4,195.4 669.6,197.6 670.4,199.7 671.1,197.6 672.0,195.6 672.2,193.4 672.9,191.3 672.0,188.8 672.8,186.8 673.9,184.8 674.7,182.7 675.6,184.8 674.9,187.1 675.4,189.3 677.0,191.3 676.4,193.6 677.3,195.7 677.5,197.9 678.4,199.9 678.6,202.1 679.5,204.1 680.0,206.2 680.9,208.1 680.5,210.5 681.5,212.3 681.7,214.5 682.5,216.4 683.9,218.1 683.8,220.3 685.5,222.0 685.0,224.2 685.6,226.2 685.7,228.2 686.1,230.2 685.5,232.7 686.9,234.8 688.1,236.9 687.2,239.4 688.8,241.5 688.3,243.9 689.0,246.0 688.8,248.3 688.4,250.6 689.0,252.8 690.3,254.8 689.8,257.1 690.7,259.2 691.6,261.1 692.7,262.9 692.3,265.2 692.9,267.1 692.7,269.3 693.8,271.1 694.8,273.1 696.2,275.0 696.0,277.5 698.7,278.7 698.8,281.1 699.2,283.3 699.9,285.5 701.6,287.2 701.4,289.6 702.2,291.7 704.2,293.4 705.6,295.4 707.5,297.0 708.6,299.2 710.8,300.7 713.4,299.8 715.7,300.9 717.3,302.3 719.5,302.6 721.7,303.0 723.1,304.8 725.4,303.7 727.4,302.9 729.5,302.1 731.8,302.2 733.7,302.5 735.9,302.9 737.7,304.0 739.8,304.5 740.8,306.5 742.4,307.7 744.0,308.9 744.5,311.1 746.1,312.4 748.7,312.9 749.6,315.3 751.7,316.4 752.4,319.0 754.5,320.0 756.7,320.3 758.4,321.4 760.2,322.2 760.9,324.8 763.3,324.7 765.1,326.1 767.3,326.9 769.2,328.2 771.3,329.2 773.3,330.2 775.7,330.8 776.4,333.4 778.8,334.1 780.2,335.9 782.1,336.9 783.8,338.1 785.2,339.8 786.9,341.0 788.8,342.1 790.0,344.2 791.9,345.3 794.0,346.2 794.9,348.3 795.2,350.4 794.9,352.7 795.6,354.6 797.1,356.3 798.8,358.1 797.9,360.8 799.3,362.7 799.7,365.0 800.1,367.2 801.1,369.2 802.1,371.0 802.1,373.2 804.0,374.6 804.7,376.5 804.7,378.7 806.8,380.1 807.4,382.1 807.5,384.3 807.4,381.7 809.7,379.9 809.9,377.6 809.9,375.2 810.2,372.8 811.4,370.8 812.7,368.8 811.7,366.1 813.1,364.1 813.9,362.0 814.4,359.8 815.8,361.8 817.1,363.8 817.3,366.3 817.9,368.7 819.8,370.3 820.9,372.3 820.6,374.8 821.5,376.8 822.6,378.6 824.8,380.1 824.5,382.6 825.2,384.8 827.0,386.2 828.3,384.1 827.5,381.7 829.7,380.2 829.0,377.9 830.4,376.2 831.1,374.2 831.8,372.1 831.2,369.6 832.1,367.6 833.6,365.7 834.5,363.3 837.1,362.4 838.7,360.4 839.4,358.0 841.5,356.3 842.2,353.8 842.8,351.7 844.3,350.1 844.7,347.9 846.3,346.3 848.0,344.7 849.6,342.9 851.1,341.1 851.0,338.3 852.9,336.8 855.2,336.4 857.4,337.0 859.6,336.8 862.0,336.7 863.5,334.8 863.2,332.6 865.3,331.0 864.8,328.7 866.3,326.9 868.9,326.3 871.6,326.0 873.6,326.8 875.7,328.0 878.1,328.7 880.0,328.9 882.0,328.1 884.0,329.0 886.0,328.3 888.3,329.5 889.9,331.4 891.3,333.4 893.0,334.8 895.5,334.5 897.0,336.4 899.1,336.9 901.2,335.5 903.7,336.3 905.7,335.1 907.6,333.7 910.2,333.5 912.2,332.0 914.2,333.2 916.3,332.5 918.3,332.3 920.3,333.2 921.7,331.3 923.9,332.0 925.4,330.5 926.9,333.0 925.9,335.8 927.1,337.9 928.4,340.0 930.0,341.4 929.5,344.2 931.4,345.5 932.7,343.6 931.8,341.2 933.4,339.5 933.4,337.4 933.7,335.3 934.7,333.5 935.9,331.9 936.2,329.9 937.3,328.3 938.4,327.7"/>
</g>
<g fill="#000">
<rect x="145" y="481" width="793.4" height="6"/>
<rect x="218.15" y="484" width="6" height="11"/>
<rect x="283.30" y="484" width="6" height="11"/>
<rect x="348.45" y="484" width="6" height="11"/>
<rect x="413.60" y="484" width="6" height="11"/>
<rect x="478.75" y="484" width="6" height="11"/>
<rect x="543.90" y="484" width="6" height="11"/>
<rect x="609.05" y="484" width="6" height="11"/>
<rect x="674.20" y="484" width="6" height="11"/>
<rect x="739.35" y="484" width="6" height="11"/>
<rect x="804.50" y="484" width="6" height="11"/>
<rect x="869.65" y="484" width="6" height="11"/>
<rect x="934.80" y="483.2" width="6" height="11.8"/>
<rect x="145" y="326.17" width="11" height="6"/>
<rect x="145" y="171.33" width="11" height="6"/>
<rect x="145" y="16.50" width="11" height="6"/>
</g>
<circle cx="7.5" cy="103" r="4.6" fill="none" stroke="#000" stroke-width="1.8"/>
<rect x="380" y="17" width="57" height="467" fill="#fff"/>
<text x="407.8" y="474.2" text-anchor="middle" font-family="Liberation Sans, sans-serif" font-weight="bold" font-size="40">SW</text>
<rect x="380" y="17" width="57" height="467" fill="none" stroke="#000" stroke-width="5.8"/>
<line x1="724.7" y1="36" x2="816.8" y2="36" stroke="#000" stroke-width="8.4" stroke-linecap="round"/>
<circle cx="724.30" cy="94.6" r="4"/>
<circle cx="738.92" cy="94.6" r="4"/>
<circle cx="753.54" cy="94.6" r="4"/>
<circle cx="768.16" cy="94.6" r="4"/>
<circle cx="782.78" cy="94.6" r="4"/>
<circle cx="797.40" cy="94.6" r="4"/>
<circle cx="812.02" cy="94.6" r="4"/>
</svg>
<div class="t yl" style="top:-0.2px">37.2</div>
<div class="t yl" style="top:154.6px">36.8</div>
<div class="t yl" style="top:309.5px">36.4</div>
<div class="t yl" style="top:464.3px">36</div>
<div class="t xl" style="left:156.0px">8</div>
<div class="t xl" style="left:221.2px"><span style="visibility:hidden">1</span>0</div>
<div class="t xl" style="left:286.3px"><span style="visibility:hidden">1</span>2</div>
<div class="t xl" style="left:351.5px"><span style="visibility:hidden">1</span>4</div>
<div class="t xl" style="left:416.6px"><span style="visibility:hidden">1</span>6</div>
<div class="t xl" style="left:481.8px"><span style="visibility:hidden">1</span>8</div>
<div class="t xl" style="left:546.9px">20</div>
<div class="t xl" style="left:612.1px">22</div>
<div class="t xl" style="left:677.2px">0</div>
<div class="t xl" style="left:742.4px">2</div>
<div class="t xl" style="left:807.5px">4</div>
<div class="t xl" style="left:872.7px">6</div>
<div class="t xl" style="left:935.1px">8</div>
<svg width="944" height="599" viewBox="0 0 944 599" style="position:absolute;left:0;top:0;will-change:transform"><path d="M763 0H583V1147Q518 1085 412.5 1023Q307 961 223 930V1104Q374 1175 487 1276Q600 1377 647 1472H763Z" transform="translate(200.58,539.2) scale(0.018066,-0.018066)"/><path d="M763 0H583V1147Q518 1085 412.5 1023Q307 961 223 930V1104Q374 1175 487 1276Q600 1377 647 1472H763Z" transform="translate(265.73,539.2) scale(0.018066,-0.018066)"/><path d="M763 0H583V1147Q518 1085 412.5 1023Q307 961 223 930V1104Q374 1175 487 1276Q600 1377 647 1472H763Z" transform="translate(330.88,539.2) scale(0.018066,-0.018066)"/><path d="M763 0H583V1147Q518 1085 412.5 1023Q307 961 223 930V1104Q374 1175 487 1276Q600 1377 647 1472H763Z" transform="translate(396.03,539.2) scale(0.018066,-0.018066)"/><path d="M763 0H583V1147Q518 1085 412.5 1023Q307 961 223 930V1104Q374 1175 487 1276Q600 1377 647 1472H763Z" transform="translate(461.18,539.2) scale(0.018066,-0.018066)"/></svg>
<div class="t" style="left:425.2px;top:556px">Time of day (h)</div>
<div class="t" id="ylab" style="left:0;top:0;transform-origin:0 0;font-size:36.5px;transform:translate(1.5px,443.8px) rotate(-90deg)">Rectal temperature (<span style="display:inline-block;width:11.6px"></span>C)</div>
<div class="t" style="left:826.8px;top:17.5px;font-size:37.3px">Dim</div>
<div class="t" style="left:826.5px;top:75.6px;font-size:37.3px">Bright</div>
</div></body></html>
